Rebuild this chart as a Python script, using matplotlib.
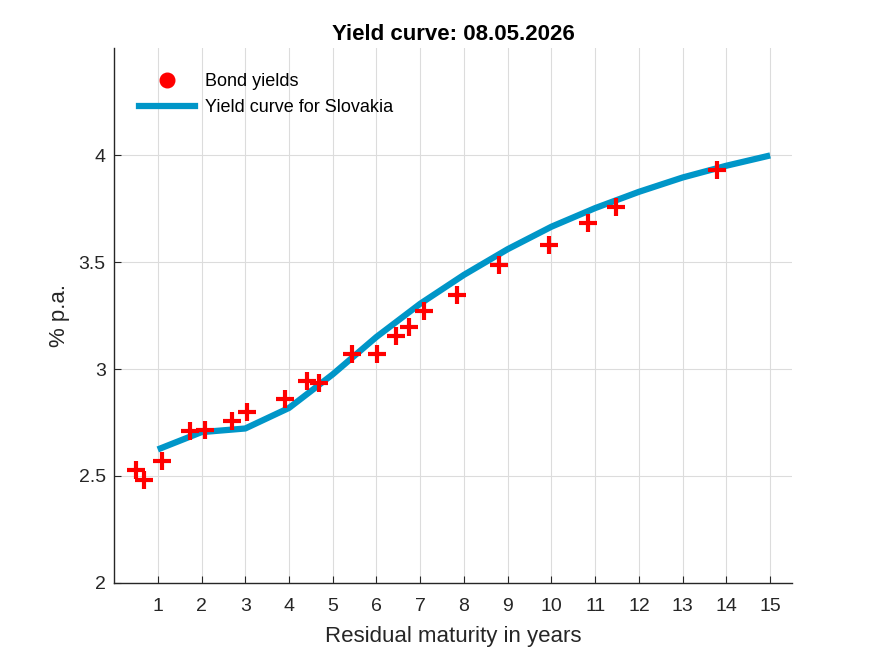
import matplotlib.pyplot as plt
from matplotlib.lines import Line2D

# bond yields (residual maturity in years, yield in % p.a.)
bond_maturity = [0.51, 0.69, 1.10, 1.74, 2.09, 2.69, 3.05, 3.92, 4.42, 4.69,
                 5.45, 6.02, 6.45, 6.75, 7.09, 7.83, 8.79, 9.95, 10.84, 11.48, 13.79]
bond_yield = [2.528, 2.483, 2.572, 2.712, 2.715, 2.755, 2.798, 2.862, 2.945, 2.935,
              3.068, 3.068, 3.155, 3.198, 3.270, 3.347, 3.488, 3.578, 3.683, 3.756, 3.930]

# fitted yield curve
curve_maturity = [1, 2, 3, 4, 5, 6, 7, 8, 9, 10, 11, 12, 13, 14, 15]
curve_yield = [2.624, 2.705, 2.722, 2.818, 2.975, 3.150, 3.305, 3.440, 3.560, 3.665,
               3.752, 3.828, 3.895, 3.950, 3.998]

plt.rcParams['font.family'] = ['Liberation Sans', 'DejaVu Sans']

fig = plt.figure(figsize=(8.75, 6.56), dpi=100)
ax = fig.add_axes([0.1303, 0.1113, 0.7749, 0.8155])

ax.plot(curve_maturity, curve_yield, color='#0096C8', lw=4.5, solid_capstyle='butt', zorder=2)
ax.plot(bond_maturity, bond_yield, '+', color='#FF0000', ms=13, mew=3, zorder=3)

ax.set_xlim(0, 15.5)
ax.set_ylim(2, 4.5)
ax.set_xticks(range(1, 16))
ax.set_yticks([2, 2.5, 3, 3.5, 4])
ax.set_yticklabels(['2', '2.5', '3', '3.5', '4'])

ax.grid(True, color='#DCDCDC', lw=0.8)
ax.set_axisbelow(True)
for s in ['top', 'right']:
    ax.spines[s].set_visible(False)
for s in ['left', 'bottom']:
    ax.spines[s].set_color('#262626')
    ax.spines[s].set_linewidth(1.0)
ax.tick_params(direction='in', length=5, colors='#262626', labelsize=14)
ax.tick_params(axis='x', pad=11)
ax.tick_params(axis='y', pad=6)

ax.set_xlabel('Residual maturity in years', fontsize=16, color='#262626', labelpad=8)
ax.set_ylabel('% p.a.', fontsize=16, color='#262626', labelpad=6)
ax.set_title('Yield curve: 08.05.2026', fontsize=16, fontweight='bold', color='black', pad=6)

# legend: filled dot for the bonds, thick line for the curve
handles = [
    Line2D([], [], ls='none', marker='o', ms=10.5, color='#FF0000'),
    Line2D([], [], color='#0096C8', lw=4.5),
]
ax.legend(handles, ['Bond yields', 'Yield curve for Slovakia'], loc='upper left',
          frameon=False, fontsize=13, handlelength=3.1, handletextpad=0.55,
          borderaxespad=1.0, labelspacing=0.5)

fig.savefig('out.png', dpi=100)
